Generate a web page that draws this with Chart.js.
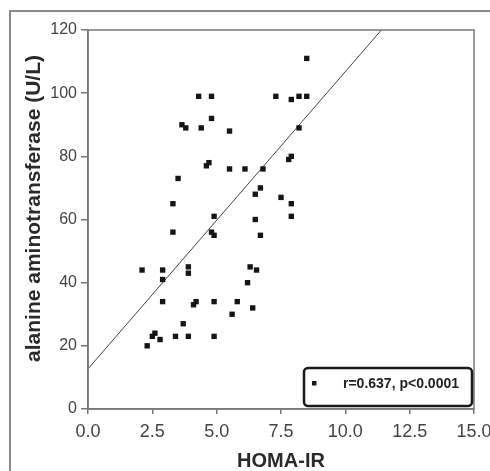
<!DOCTYPE html>
<html><head><meta charset="utf-8">
<script src="https://cdn.jsdelivr.net/npm/chart.js@4.4.1/dist/chart.umd.min.js"></script>
<style>
html,body{margin:0;padding:0;background:#fff;}
#wrap{position:relative;width:490px;height:471px;overflow:hidden;}
#frame{position:absolute;left:9px;top:10px;width:600px;height:600px;border:2px solid #8a8a8a;box-sizing:border-box;}
canvas{position:absolute;left:0;top:0;}
</style></head>
<body><div id="wrap"><div id="frame"></div><canvas id="c" width="490" height="471"></canvas></div>
<script>
const homaIR = [2.1,2.3,2.5,2.6,2.8,2.9,2.9,2.9,3.3,3.3,3.4,3.5,3.65,3.8,3.7,3.9,3.9,3.9,4.1,4.2,4.3,4.4,4.6,4.7,4.8,4.8,4.8,4.9,4.9,4.9,4.9,5.5,5.5,5.6,5.8,6.1,6.2,6.3,6.4,6.5,6.5,6.55,6.7,6.7,6.8,7.3,7.5,7.8,7.9,7.9,7.9,7.9,8.2,8.2,8.5,8.5];
const alt    = [44,20,23,24,22,44,41,34,65,56,23,73,90,89,27,45,43,23,33,34,99,89,77,78,99,92,56,61,55,34,23,88,76,30,34,76,40,45,32,68,60,44,70,55,76,99,67,79,80,98,65,61,99,89,99,111];
const fitX = [0, 11.4];
const fitY = [12.7, 120];
const xTicks = [0,2.5,5,7.5,10,12.5,15];
const yTicks = [0,20,40,60,80,100,120];
const legendLabel = 'r=0.637, p<0.0001';
const xTitle = 'HOMA-IR';
const yTitle = 'alanine aminotransferase (U/L)';

const pts = homaIR.map((x,i)=>({x:x,y:alt[i]}));
const fit = fitX.map((x,i)=>({x:x,y:fitY[i]}));
const FONT = '"Liberation Sans", Arial, sans-serif';

const boxPlugin = {
  id:'boxPlugin',
  afterDraw(chart){
    const {ctx, chartArea:a} = chart;
    ctx.save();
    ctx.strokeStyle='#777'; ctx.lineWidth=1.5;
    ctx.strokeRect(a.left, a.top, a.right-a.left, a.bottom-a.top);
    // y title
    ctx.save();
    ctx.translate(39.5, 208.5);
    ctx.rotate(-Math.PI/2);
    ctx.font='bold 21px '+FONT;
    ctx.fillStyle='#2a2a2a'; ctx.textAlign='center'; ctx.textBaseline='alphabetic';
    ctx.fillText(yTitle, 0, 0);
    ctx.restore();
    // legend box
    const w=168, h=38, x=a.right-w-2, y=a.bottom-h-3;
    ctx.beginPath();
    ctx.roundRect(x,y,w,h,4);
    ctx.fillStyle='#fff'; ctx.fill();
    ctx.lineWidth=2.5; ctx.strokeStyle='#1a1a1a'; ctx.stroke();
    ctx.fillStyle='#1a1a1a';
    ctx.fillRect(x+8, y+13, 4.5, 4.5);
    ctx.font='bold 14px '+FONT;
    ctx.textBaseline='middle'; ctx.textAlign='left';
    ctx.fillStyle='#222';
    ctx.fillText(chart.data.datasets[0].label, x+39, y+16);
    ctx.restore();
  }
};

new Chart(document.getElementById('c'), {
  type:'scatter',
  data:{datasets:[
    {label:legendLabel, data:pts, pointStyle:'rect', pointRadius:3.8, backgroundColor:'#151515', borderColor:'#151515', borderWidth:0, order:1},
    {label:'fit', type:'line', data:fit, showLine:true, pointRadius:0, borderColor:'#444', borderWidth:1, fill:false, order:2}
  ]},
  options:{
    responsive:false, animation:false,
    layout:{padding:{top:30,right:16,left:0,bottom:0}},
    plugins:{legend:{display:false}, tooltip:{enabled:false}},
    scales:{
      x:{type:'linear', min:0, max:15,
        afterBuildTicks(s){ s.ticks = xTicks.map(v=>({value:v})); },
        afterFit(s){ s.height = 62; s.paddingLeft = 0; s.paddingRight = 0; },
        grid:{display:true, drawOnChartArea:false, drawTicks:true, tickLength:5, color:'#777', lineWidth:1.5},
        border:{display:true, color:'#777', width:1.5},
        ticks:{color:'#444', padding:7, maxRotation:0, font:{family:FONT, size:18},
          callback:v=>Number(v).toFixed(1)},
        title:{display:true, text:xTitle, color:'#2a2a2a', padding:{top:0,bottom:0},
          font:{family:FONT, size:20, weight:'bold', lineHeight:1.0}}
      },
      y:{type:'linear', min:0, max:120,
        afterBuildTicks(s){ s.ticks = yTicks.map(v=>({value:v})); },
        afterFit(s){ s.width = 88; s.paddingTop = 0; s.paddingBottom = 0; },
        grid:{display:true, drawOnChartArea:false, drawTicks:true, tickLength:7, color:'#777', lineWidth:1.5},
        border:{display:true, color:'#777', width:1.5},
        ticks:{color:'#444', padding:4, font:{family:FONT, size:16}},
        title:{display:false}
      }
    }
  },
  plugins:[boxPlugin]
});
</script></body></html>
